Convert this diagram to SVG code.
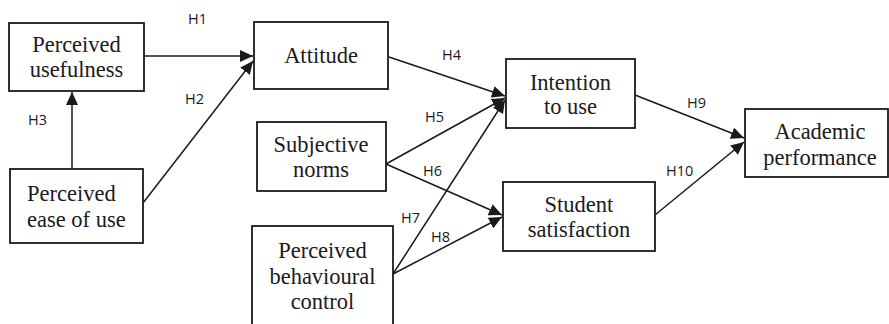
<svg xmlns="http://www.w3.org/2000/svg" width="889" height="324" viewBox="0 0 889 324">
<style>
.box{fill:#fff;stroke:#1a1a1a;stroke-width:1.8}
.t{font-family:"Liberation Serif","Times New Roman",serif;font-size:22.5px;fill:#1a1a1a;text-anchor:middle}
.h{font-family:"Open Sans","Liberation Sans",sans-serif;font-size:14.5px;fill:#1a1a1a}
.c{stroke:#1a1a1a;stroke-width:1.5;fill:none;marker-end:url(#ah)}
</style>
<defs>
<marker id="ah" markerUnits="userSpaceOnUse" markerWidth="14" markerHeight="12" refX="13" refY="6" orient="auto">
<path d="M0,0 L13,6 L0,12 Z" fill="#1a1a1a"/>
</marker>
</defs>
<rect width="889" height="324" fill="#fff"/>
<g id="connectors">
<path class="c" d="M72,169 L72,92"/>
<path class="c" d="M144,56 L253,56"/>
<path class="c" d="M143,203 L253,61"/>
<path class="c" d="M389,57 L505,96"/>
<path class="c" d="M386,164 L505,98"/>
<path class="c" d="M393,274 L505,100"/>
<path class="c" d="M386,164 L502,215"/>
<path class="c" d="M393,274 L502,217"/>
<path class="c" d="M635,95 L744,138"/>
<path class="c" d="M655,215 L744,142"/>
<text class="h" x="188" y="24">H1</text>
<text class="h" x="185" y="104">H2</text>
<text class="h" x="28" y="125">H3</text>
<text class="h" x="442" y="60">H4</text>
<text class="h" x="425" y="122">H5</text>
<text class="h" x="423" y="176">H6</text>
<text class="h" x="401" y="223">H7</text>
<text class="h" x="431" y="242">H8</text>
<text class="h" x="687" y="108">H9</text>
<text class="h" x="666" y="176">H10</text>
</g>
<g id="perceived-usefulness">
<rect class="box" x="9" y="23" width="135" height="68"/>
<text class="t" x="76.5" y="52">Perceived</text>
<text class="t" x="76.5" y="77">usefulness</text>
</g>
<g id="perceived-ease-of-use">
<rect class="box" x="10" y="169" width="133" height="74"/>
<text class="t" x="27" y="201" style="text-anchor:start">Perceived</text>
<text class="t" x="27" y="227" style="text-anchor:start">ease of use</text>
</g>
<g id="attitude">
<rect class="box" x="254" y="22" width="134" height="67"/>
<text class="t" x="321" y="63">Attitude</text>
</g>
<g id="subjective-norms">
<rect class="box" x="257" y="122" width="129" height="69"/>
<text class="t" x="321" y="152">Subjective</text>
<text class="t" x="321" y="177">norms</text>
</g>
<g id="perceived-behavioural-control">
<rect class="box" x="252" y="226" width="141" height="110"/>
<text class="t" x="322.5" y="258">Perceived</text>
<text class="t" x="322.5" y="284">behavioural</text>
<text class="t" x="322.5" y="309">control</text>
</g>
<g id="intention-to-use">
<rect class="box" x="506" y="59" width="129" height="69"/>
<text class="t" x="570.5" y="90">Intention</text>
<text class="t" x="570.5" y="114">to use</text>
</g>
<g id="student-satisfaction">
<rect class="box" x="503" y="182" width="152" height="69"/>
<text class="t" x="579" y="212">Student</text>
<text class="t" x="579" y="237">satisfaction</text>
</g>
<g id="academic-performance">
<rect class="box" x="745" y="109" width="143" height="68"/>
<text class="t" x="820" y="139">Academic</text>
<text class="t" x="820" y="165">performance</text>
</g>
</svg>
